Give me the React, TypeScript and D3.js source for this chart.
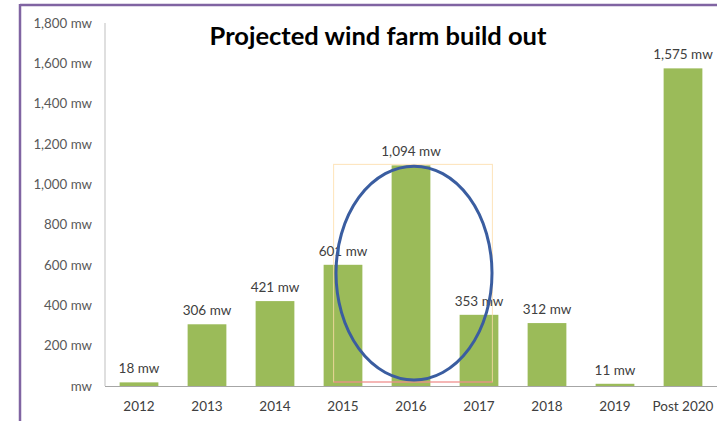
import React from "react";
import * as d3 from "d3";

const categories = ["2012", "2013", "2014", "2015", "2016", "2017", "2018", "2019", "Post 2020"];
const values = [18, 306, 421, 601, 1094, 353, 312, 11, 1575];
const yTicks = [0, 200, 400, 600, 800, 1000, 1200, 1400, 1600, 1800];
const title = "Projected wind farm build out";

const W = 722;
const H = 421;
const FONT = "Lato, 'Open Sans', sans-serif";

export default function App() {
  const x = d3.scaleBand<string>().domain(categories).range([105, 717]).paddingInner(0.43).paddingOuter(0.215);
  const y = d3.scaleLinear().domain([0, 1800]).range([386, 23]);
  const fmt = d3.format(",");
  const tickLabel = (v: number) => (v === 0 ? "mw" : `${fmt(v)} mw`);

  // highlight region around 2015-2017
  const x15 = x("2015")!;
  const x17 = x("2017")!;
  const x16 = x("2016")!;
  const cx = x16 + x.bandwidth() / 2 + 3;
  const cy = y(560);
  const rx = 78;
  const ry = y(0) - y(530);

  const rectL = x15 + 10;
  const rectR = x17 + x.bandwidth() - 6;
  const rectT = y(1094) - 1;
  const rectB = y(0) - 4;

  return (
    <div style={{ position: "absolute", left: 0, top: 0 }}>
      <svg width={W} height={H} style={{ display: "block", background: "#fff" }}>
        {/* purple frame */}
        <line x1={20} y1={5} x2={717} y2={5} stroke="#8064a2" strokeWidth={2.5} />
        <line x1={20} y1={4} x2={20} y2={421} stroke="#8064a2" strokeWidth={2.5} />

        {/* axes */}
        <line x1={105} y1={y(1800)} x2={105} y2={y(0)} stroke="#bfbfbf" strokeWidth={1} />
        <line x1={105} y1={y(0) + 0.5} x2={717} y2={y(0) + 0.5} stroke="#a6a6a6" strokeWidth={1} />

        {yTicks.map((t) => (
          <text key={t} x={92} y={y(t)} dy="0.35em" textAnchor="end" fontFamily={FONT} fontSize={13.3} fill="#595959">
            {tickLabel(t)}
          </text>
        ))}

        {categories.map((c) => (
          <text key={c} x={x(c)! + x.bandwidth() / 2} y={406} dy="0.35em" textAnchor="middle" fontFamily={FONT} fontSize={13.5} fill="#404040">
            {c}
          </text>
        ))}

        {categories.map((c, i) => (
          <rect key={c} x={x(c)} y={y(values[i])} width={x.bandwidth()} height={y(0) - y(values[i])} fill="#9bbb59" />
        ))}

        {/* thin selection rectangle */}
        <rect x={rectL} y={rectT} width={rectR - rectL} height={rectB - rectT} fill="none" stroke="#fcdca8" strokeWidth={1} strokeOpacity={0.8} />
        <line x1={rectL} y1={rectB} x2={rectR} y2={rectB} stroke="#e8607a" strokeWidth={1} strokeOpacity={0.8} />

        {categories.map((c, i) => (
          <text key={c} x={x(c)! + x.bandwidth() / 2} y={y(values[i]) - 14} dy="0.35em" textAnchor="middle" fontFamily={FONT} fontSize={13.5} fill="#404040">
            {`${fmt(values[i])} mw`}
          </text>
        ))}

        {/* ellipse highlight */}
        <ellipse cx={cx} cy={cy} rx={rx} ry={ry} fill="none" stroke="#3a5da0" strokeWidth={3} />

        <text x={378} y={36} dy="0.35em" textAnchor="middle" fontFamily={FONT} fontWeight="bold" fontSize={25.5} fill="#000">
          {title}
        </text>
      </svg>
    </div>
  );
}
